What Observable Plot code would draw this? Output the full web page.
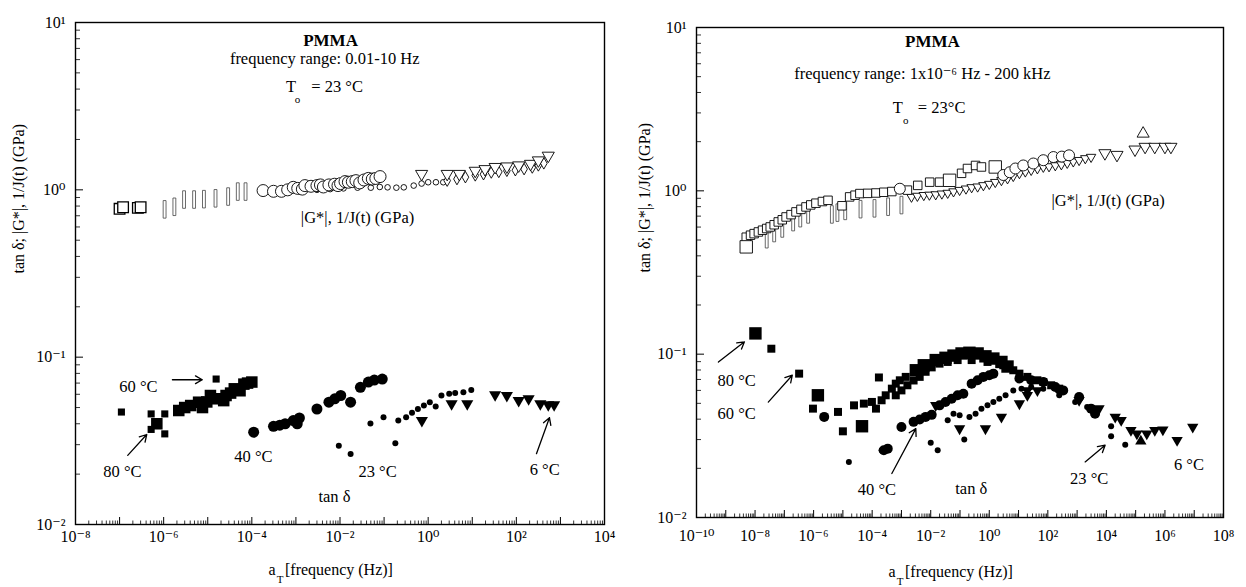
<!DOCTYPE html>
<html><head><meta charset="utf-8">
<script src="https://cdn.jsdelivr.net/npm/d3@7"></script>
<script src="https://cdn.jsdelivr.net/npm/@observablehq/plot@0.6"></script>
<style>
body{margin:0;background:#fff;}
#wrap{position:relative;width:1246px;height:587px;overflow:hidden;}
#left{position:absolute;left:0;top:0;}
#right{position:absolute;left:623px;top:0;}
</style></head><body><div id="wrap"><div id="left"></div><div id="right"></div></div>
<script>
// ---------- LEFT PANEL DATA (frequency range 0.01-10 Hz) ----------
const L_tanSqSmall = [[1.1e-7,0.047],[5.2e-7,0.0458],[1.06e-6,0.0458],[5.2e-7,0.037],[1.06e-6,0.0348],[1.55e-5,0.074]];
const L_tanSqLarge = [[7.0e-7,0.040],[2.2e-6,0.048],[3.0e-6,0.050],[4.1e-6,0.0514],[6.2e-6,0.0538],[7.6e-6,0.050],[9.5e-6,0.054],[1.15e-5,0.059],[1.56e-5,0.0564],[2.3e-5,0.055],[2.6e-5,0.059],[3.3e-5,0.061],[4.0e-5,0.0647],[5.4e-5,0.063],[6.6e-5,0.069],[8.0e-5,0.070],[1.0e-4,0.071]];
const L_tan40 = [[1.1e-4,0.0356],[3.1e-4,0.0386],[4.3e-4,0.0392],[5.7e-4,0.040],[8.7e-4,0.0418],[1.2e-3,0.0433],[1.07e-3,0.040],[3.0e-3,0.049],[5.6e-3,0.0538],[7.6e-3,0.0564],[1.04e-2,0.059],[1.74e-2,0.0538],[2.9e-2,0.066],[4.4e-2,0.071],[6.0e-2,0.073],[9.1e-2,0.074]];
const L_tan23 = [[9.4e-3,0.0296],[1.74e-2,0.0264],[4.9e-2,0.0402],[9.7e-2,0.0438],[0.18,0.0306],[0.21,0.0418],[0.316,0.0438],[0.43,0.0465],[0.585,0.049],[0.80,0.0514],[1.09,0.0538],[1.48,0.0507],[2.0,0.059],[3.0,0.0604],[4.1,0.061],[6.3,0.0618],[9.5,0.0637]];
const L_tan6 = [[0.72,0.0418],[3.4,0.0526],[7.7,0.0526],[33,0.0596],[61,0.059],[113,0.055],[190,0.0564],[350,0.0526],[530,0.0519],[720,0.0519]];
const L_gSq = [[1.0e-7,0.77],[1.2e-7,0.787],[2.6e-7,0.78],[3.0e-7,0.787]];
const L_gBar = [[1.05e-6,0.83],[1.75e-6,0.86],[2.9e-6,0.95],[4.9e-6,0.95],[8.2e-6,0.955],[1.5e-5,0.966],[2.9e-5,0.99],[4.8e-5,1.06],[7.2e-5,1.06]];
const L_gCirc = [[1.8e-4,0.99],[3.1e-4,0.98],[4.7e-4,0.98],[6.5e-4,1.0],[8.7e-4,1.035],[1.1e-3,1.02],[1.4e-3,1.01],[1.6e-3,1.06],[2.2e-3,1.05],[3.0e-3,1.06],[3.6e-3,1.07],[4.2e-3,1.04],[5.6e-3,1.07],[7.5e-3,1.08],[9.0e-3,1.06],[1.03e-2,1.09],[1.3e-2,1.12],[1.55e-2,1.11],[1.9e-2,1.12],[2.3e-2,1.135],[2.8e-2,1.10],[3.5e-2,1.145],[4.4e-2,1.17],[5.4e-2,1.16],[6.5e-2,1.17],[8.1e-2,1.20]];
const L_gSmall = [[1.5e-3,0.99],[3e-3,1.0],[6e-3,1.01],[1.2e-2,1.02],[2.5e-2,1.03],[5e-2,1.03],[8e-2,1.04],[0.12,1.035],[0.19,1.03],[0.28,1.035],[0.47,1.06],[0.71,1.09],[1.0,1.11],[1.5,1.11],[2.2,1.11]];
const L_gTri = [[0.71,1.245],[2.7,1.245],[5.1,1.245],[11.7,1.30],[19.5,1.33],[33,1.37],[61,1.38],[113,1.40],[210,1.43],[316,1.50],[530,1.60]];
const L_gDiam = [[2.7,1.135],[4.5,1.16],[7,1.19],[11.7,1.22],[18,1.24],[27,1.27],[40,1.28],[61,1.30],[95,1.31],[150,1.33],[230,1.36],[316,1.40],[420,1.44]];

// ---------- RIGHT PANEL DATA (frequency range 1e-6 Hz - 200 kHz) ----------
const R_tan80 = [[1.03e-8,0.134],[1.4e-6,0.056],[4.5e-5,0.0362],[3.1e-3,0.0797],[5.8e-3,0.0855],[1.48e-2,0.092],[3.2e-2,0.095],[6.0e-2,0.098],[0.113,0.101],[0.21,0.102],[0.40,0.101],[0.74,0.097],[1.38,0.094],[2.6,0.0896],[4.2,0.084]];
const R_tan60 = [[3.6e-8,0.108],[3.2e-7,0.076],[9.5e-7,0.0464],[6.8e-6,0.0443],[1.0e-5,0.0337],[1.7e-4,0.072],[2.4e-5,0.0486],[5.2e-5,0.0498],[9.8e-5,0.051],[1.35e-4,0.0464],[2.1e-4,0.0522],[2.9e-4,0.056],[4.7e-4,0.0615],[6.4e-4,0.066],[8.8e-4,0.0692],[1.4e-3,0.0726],[6.4e-4,0.056],[1.0e-3,0.060],[1.6e-3,0.0645],[2.6e-3,0.069],[4.2e-3,0.0726],[6.7e-3,0.078],[1.08e-2,0.083],[2.0e-2,0.0875],[3.8e-2,0.0896],[8.3e-2,0.092],[0.25,0.092],[0.87,0.0896],[3.0,0.0855],[6.6,0.0797],[10.7,0.076],[20,0.0726],[44,0.0692],[70,0.0676],[130,0.0645],[245,0.0615]];
const R_tan40 = [[2.3e-6,0.0413],[2.5e-4,0.0258],[3.4e-4,0.0264],[1.0e-3,0.0358],[2.6e-3,0.0385],[4.2e-3,0.0398],[6.7e-3,0.0413],[1.08e-2,0.0425],[2.0e-2,0.0486],[3.2e-2,0.051],[5.2e-2,0.0534],[8.3e-2,0.056],[0.13,0.0573],[0.25,0.066],[0.40,0.0692],[0.63,0.0726],[1.0,0.0743],[1.38,0.076],[10.7,0.0709],[27,0.0692],[70,0.0676],[180,0.063],[335,0.060],[1170,0.0547],[3000,0.0464],[4100,0.0432]];
const R_tan23 = [[1.6e-5,0.0219],[2.1e-4,0.0258],[1.0e-2,0.0287],[1.73e-2,0.0258],[3.8e-2,0.0394],[6.0e-2,0.0432],[9.7e-2,0.0423],[0.14,0.030],[0.21,0.0413],[0.34,0.0432],[0.54,0.0464],[0.87,0.0486],[1.38,0.051],[2.2,0.0534],[3.6,0.056],[6.6,0.060],[12.6,0.0615],[27,0.063],[70,0.0615],[245,0.056],[860,0.051],[2200,0.0475],[14500,0.0362],[14500,0.0314],[4.4e4,0.0279]];
const R_tan6 = [[1.48e-2,0.0486],[9.7e-2,0.035],[0.74,0.035],[2.6,0.0413],[10.7,0.0498],[20,0.056],[20,0.060],[44,0.060],[245,0.059],[1170,0.0522],[5600,0.0464],[2.0e4,0.0413],[3.2e4,0.0394],[6.9e4,0.0342],[1.1e5,0.0326],[2.4e5,0.0326],[4.5e5,0.0342],[8.5e5,0.0345],[2.6e6,0.0297],[8.9e6,0.0358]];
const R_tan6up = [[1.5e5,0.0293]];
const R_gSq = [[5.0e-9,0.52],[7e-9,0.535],[9.3e-9,0.547],[1.3e-8,0.56],[1.8e-8,0.574],[2.5e-8,0.588],[3.3e-8,0.601],[4.5e-8,0.62],[6.2e-8,0.645],[8.5e-8,0.665],[1.15e-7,0.692],[1.7e-7,0.715],[2.5e-7,0.743],[3.7e-7,0.77],[5.5e-7,0.797],[8e-7,0.82],[1.2e-6,0.84],[2e-6,0.86],[3.1e-6,0.875],[9.3e-6,0.81],[1.7e-5,0.918],[2.6e-5,0.94],[3.8e-5,0.962],[7e-5,0.965],[1.35e-4,0.97],[2.5e-4,0.98],[4.7e-4,0.99],[1.6e-3,1.01],[3.6e-3,1.08],[9.2e-3,1.13],[0.02,1.13],[0.113,1.28],[0.18,1.37],[0.34,1.43],[0.54,1.40]];
const R_gSqBig = [[5.0e-9,0.454],[0.044,1.16],[1.6,1.40]];
const R_gBar = [[2.5e-8,0.55],[4.5e-8,0.6],[8.5e-8,0.64],[2.0e-7,0.70],[3.5e-7,0.74],[6.5e-7,0.78],[4.2e-6,0.78],[6.5e-6,0.80],[1.2e-5,0.82],[4.0e-5,0.84],[1.2e-4,0.85],[3.5e-4,0.87],[1.0e-3,0.89]];
const R_gCirc = [[8.8e-4,1.03],[3.0,1.25],[5.0,1.30],[7.8,1.37],[14.5,1.43],[32,1.47],[70,1.54],[155,1.61],[300,1.62],[530,1.65]];
const R_gTriSmall = [[2.2e-3,0.918],[3.5e-3,0.93],[5.8e-3,0.94],[9e-3,0.945],[1.48e-2,0.95],[2.4e-2,0.96],[3.8e-2,0.97],[6e-2,0.99],[0.097,1.01],[0.16,1.03],[0.25,1.05],[0.4,1.06],[0.63,1.08],[1.0,1.10],[1.6,1.13],[2.6,1.16],[4.2,1.19],[6.6,1.23],[10.7,1.28],[17,1.31],[27,1.34],[44,1.37],[70,1.40],[110,1.41],[180,1.43],[290,1.45],[460,1.48],[740,1.51],[1170,1.54],[1900,1.58],[3000,1.61]];
const R_gTri = [[8900,1.70],[2.3e4,1.66],[9.5e4,1.79],[2.1e5,1.86],[4.5e5,1.86],[1.0e6,1.86],[1.6e6,1.86]];
const R_gTriUp = [[1.8e5,2.24]];

// ---------- AXES ----------
const L_xMajorExp = [-8,-7,-6,-5,-4,-3,-2,-1,0,1,2,3,4];
const L_xLabelExp = [-8,-6,-4,-2,0,2,4];
const R_xMajorExp = [-10,-9,-8,-7,-6,-5,-4,-3,-2,-1,0,1,2,3,4,5,6,7,8];
const R_xLabelExp = [-10,-8,-6,-4,-2,0,2,4,6,8];
const yMajorExp = [-2,-1,0,1];
const yLabelExp = [-2,-1,0,1];
const yTitle = "tan δ; |G*|, 1/J(t) (GPa)";
const xTitle = "[frequency (Hz)]";

// ---------- ANNOTATIONS ----------
const L_title = {x:6.1e-3, y:7.85, text:"PMMA"};
const L_notes = [
  {x:4.5e-3, y:6.05, text:"frequency range: 0.01-10 Hz"},
  {x:8.6e-3, y:4.13, text:"= 23 °C"},
  {x:2.5e-2, y:0.682, text:"|G*|, 1/J(t) (GPa)"},
  {x:2.68e-7, y:0.0668, text:"60 °C"},
  {x:1.16e-7, y:0.0206, text:"80 °C"},
  {x:1.09e-4, y:0.0253, text:"40 °C"},
  {x:7.1e-2, y:0.0208, text:"23 °C"},
  {x:7.5e-3, y:0.0146, text:"tan δ"},
  {x:439, y:0.0213, text:"6 °C"}
];
const L_To = {T:[7.8e-4,4.13], o:[1.09e-3,3.46]};
const L_arrows = [
  {x1:1.58e-6,y1:0.0733,x2:7.5e-6,y2:0.0733},
  {x1:1.53e-7,y1:0.0259,x2:4.13e-7,y2:0.0345},
  {x1:286,y1:0.0265,x2:564,y2:0.0435}
];
const R_title = {x:1.14e-2, y:8.17, text:"PMMA"};
const R_notes = [
  {x:5.2e-3, y:5.18, text:"frequency range: 1x10⁻⁶ Hz - 200 kHz"},
  {x:2.36e-2, y:3.24, text:"= 23°C"},
  {x:11450, y:0.876, text:"|G*|, 1/J(t) (GPa)"},
  {x:2.35e-9, y:0.0692, text:"80 °C"},
  {x:2.35e-9, y:0.0433, text:"60 °C"},
  {x:1.46e-4, y:0.0147, text:"40 °C"},
  {x:0.243, y:0.01503, text:"tan δ"},
  {x:2570, y:0.0173, text:"23 °C"},
  {x:6.6e6, y:0.0209, text:"6 °C"}
];
const R_To = {T:[7.5e-4,3.24], o:[1.41e-3,2.71]};
const R_arrows = [
  {x1:5.6e-10,y1:0.0895,x2:4.34e-9,y2:0.119},
  {x1:2.83e-8,y1:0.0509,x2:1.87e-7,y2:0.0743},
  {x1:4.7e-4,y1:0.0186,x2:3.1e-3,y2:0.035},
  {x1:1880,y1:0.0219,x2:9040,y2:0.0277}
];

// ---------- HELPERS ----------
const FONT = "'Liberation Serif','Times New Roman','DejaVu Serif',serif";
const supMap = {"-":"⁻","0":"⁰","1":"¹","2":"²","3":"³","4":"⁴","5":"⁵","6":"⁶","7":"⁷","8":"⁸","9":"⁹"};
const sup = v => "10" + String(Math.round(Math.log10(v))).split("").map(c => supMap[c]).join("");
const barSymbol = {draw(context, size) { const s = Math.sqrt(size); context.rect(-s*0.18, -s*0.35, s*0.36, s*2.2); }};
const pow = e => Math.pow(10, e);
const minors = exps => exps.slice(0, -1).flatMap(e => [2,3,4,5,6,7,8,9].map(m => m * pow(e)));
const X = d => d[0], Y = d => d[1];
const blank = () => "";

function panel(o) {
  const xMaj = o.xMajorExp.map(pow), yMaj = yMajorExp.map(pow);
  return Plot.plot({
    width: 623, height: 587,
    marginLeft: o.ml, marginRight: o.mr, marginTop: o.mt, marginBottom: o.mb,
    style: {fontFamily: FONT, fontSize: "16px", color: "black", background: "white"},
    x: {type: "log", domain: [pow(o.xMajorExp[0]), pow(o.xMajorExp[o.xMajorExp.length-1])]},
    y: {type: "log", domain: [0.01, 10]},
    marks: [
      ...o.dataMarks,
      // inward major/minor ticks (bottom and left)
      Plot.axisX(xMaj, {tickSize: 7, dy: -7, tickFormat: blank, label: null, strokeWidth: 1}),
      Plot.axisX(minors(o.xMajorExp), {tickSize: 3.5, dy: -3.5, tickFormat: blank, label: null, strokeWidth: 0.8}),
      Plot.axisY(yMaj, {tickSize: 8, dx: 8, tickFormat: blank, label: null, strokeWidth: 1}),
      Plot.axisY(minors(yMajorExp), {tickSize: 5, dx: 5, tickFormat: blank, label: null, strokeWidth: 0.8}),
      // labels
      Plot.axisX(o.xLabelExp.map(pow), {tickSize: 0, tickPadding: o.xpad, tickFormat: sup, fontSize: 16, label: null}),
      Plot.axisY(yLabelExp.map(pow), {tickSize: 0, tickPadding: 10, tickFormat: sup, fontSize: 16, label: null}),
      Plot.frame({stroke: "black", strokeWidth: 1.4}),
      Plot.text([yTitle], {frameAnchor: "left", rotate: -90, dx: o.ytdx, dy: o.ytdy, fontSize: 16}),
      Plot.text(["a"], {frameAnchor: "bottom", dx: -68, dy: o.xtdy, fontSize: 16}),
      Plot.text(["T"], {frameAnchor: "bottom", dx: -60, dy: o.xtdy + 8, fontSize: 11}),
      Plot.text([xTitle], {frameAnchor: "bottom", dx: -55, dy: o.xtdy, textAnchor: "start", fontSize: 16}),
      Plot.text([o.title], {x: "x", y: "y", text: "text", fontSize: 17, fontWeight: "bold"}),
      Plot.text(o.notes, {x: "x", y: "y", text: "text", fontSize: 16.5}),
      Plot.text([o.To.T], {x: X, y: Y, text: () => "T", fontSize: 16.5}),
      Plot.text([o.To.o], {x: X, y: Y, text: () => "o", fontSize: 11}),
      Plot.arrow(o.arrows, {x1: "x1", y1: "y1", x2: "x2", y2: "y2", stroke: "black", strokeWidth: 1.3, headLength: 9})
    ]
  });
}

const sqFill = {fill: "black", symbol: "square"};
const openStyle = {fill: "white", stroke: "black", strokeWidth: 0.9};

const leftMarks = [
  Plot.dot(L_gBar, {x: X, y: Y, symbol: barSymbol, r: 4.5, fill: "white", stroke: "#444", strokeWidth: 0.8}),
  Plot.dot(L_gSq, {x: X, y: Y, symbol: "square", r: 6, ...openStyle, strokeWidth: 1.3}),
  Plot.dot(L_gSmall, {x: X, y: Y, symbol: "circle", r: 2.8, ...openStyle}),
  Plot.dot(L_gCirc, {x: X, y: Y, symbol: "circle", r: 6, ...openStyle}),
  Plot.dot(L_gDiam, {x: X, y: Y, symbol: "diamond", r: 3.5, ...openStyle}),
  Plot.dot(L_gTri, {x: X, y: Y, symbol: "triangle", rotate: 180, r: 4.5, ...openStyle}),
  Plot.dot(L_tanSqLarge, {x: X, y: Y, ...sqFill, r: 6.5}),
  Plot.dot(L_tanSqSmall, {x: X, y: Y, ...sqFill, r: 4}),
  Plot.dot(L_tan40, {x: X, y: Y, fill: "black", r: 5.5}),
  Plot.dot(L_tan23, {x: X, y: Y, fill: "black", r: 3}),
  Plot.dot(L_tan6, {x: X, y: Y, fill: "black", symbol: "triangle", rotate: 180, r: 4.5})
];
const rightMarks = [
  Plot.dot(R_gBar, {x: X, y: Y, symbol: barSymbol, r: 4.5, fill: "white", stroke: "#444", strokeWidth: 0.8}),
  Plot.dot(R_gTriSmall, {x: X, y: Y, symbol: "triangle", rotate: 180, r: 3.5, ...openStyle}),
  Plot.dot(R_gSq, {x: X, y: Y, symbol: "square", r: 4.8, ...openStyle}),
  Plot.dot(R_gSqBig, {x: X, y: Y, symbol: "square", r: 7, ...openStyle}),
  Plot.dot(R_gCirc, {x: X, y: Y, symbol: "circle", r: 5.5, ...openStyle}),
  Plot.dot(R_gTri, {x: X, y: Y, symbol: "triangle", rotate: 180, r: 4.5, ...openStyle}),
  Plot.dot(R_gTriUp, {x: X, y: Y, symbol: "triangle", r: 4.5, ...openStyle}),
  Plot.dot(R_tan60, {x: X, y: Y, ...sqFill, r: 4.5}),
  Plot.dot(R_tan80, {x: X, y: Y, ...sqFill, r: 7}),
  Plot.dot(R_tan40, {x: X, y: Y, fill: "black", r: 5}),
  Plot.dot(R_tan23, {x: X, y: Y, fill: "black", r: 3}),
  Plot.dot(R_tan6, {x: X, y: Y, fill: "black", symbol: "triangle", rotate: 180, r: 4.2}),
  Plot.dot(R_tan6up, {x: X, y: Y, fill: "black", symbol: "triangle", r: 4.2})
];

document.getElementById("left").append(panel({
  xMajorExp: L_xMajorExp, xLabelExp: L_xLabelExp, ml: 75, mr: 19, mt: 22, mb: 63,
  xpad: 6, ytdx: -57, ytdy: 0, xtdy: 50,
  dataMarks: leftMarks, title: L_title, notes: L_notes, To: L_To, arrows: L_arrows
}));
document.getElementById("right").append(panel({
  xMajorExp: R_xMajorExp, xLabelExp: R_xLabelExp, ml: 73, mr: 23, mt: 27, mb: 70,
  xpad: 12, ytdx: -52, ytdy: 0, xtdy: 59,
  dataMarks: rightMarks, title: R_title, notes: R_notes, To: R_To, arrows: R_arrows
}));
</script></body></html>
